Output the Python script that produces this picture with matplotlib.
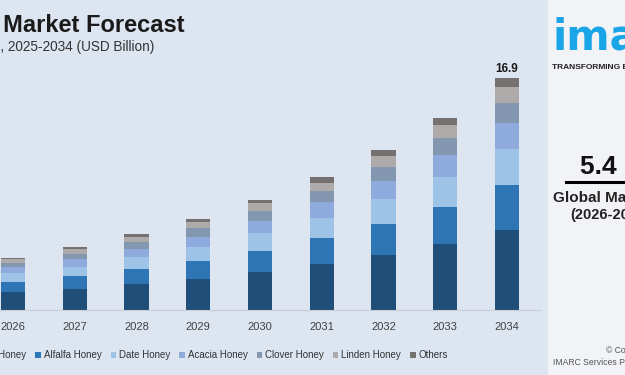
import numpy as np
import matplotlib.pyplot as plt
from matplotlib.patches import Patch, Rectangle
from matplotlib.lines import Line2D

plt.rcParams['font.family'] = ['Liberation Sans', 'DejaVu Sans']

# values (USD Billion)
years = ["2026", "2027", "2028", "2029", "2030", "2031", "2032", "2033", "2034"]
manuka = [1.33, 1.55, 1.90, 2.28, 2.77, 3.33, 4.01, 4.84, 5.84]
alfalfa = [0.71, 0.92, 1.07, 1.27, 1.53, 1.90, 2.26, 2.70, 3.25]
date = [0.63, 0.70, 0.90, 1.06, 1.29, 1.48, 1.82, 2.17, 2.63]
acacia = [0.44, 0.55, 0.58, 0.73, 0.92, 1.15, 1.33, 1.60, 1.94]
clover = [0.34, 0.37, 0.49, 0.61, 0.71, 0.80, 1.02, 1.22, 1.46]
linden = [0.25, 0.33, 0.41, 0.44, 0.56, 0.63, 0.78, 0.97, 1.12]
others = [0.12, 0.19, 0.20, 0.24, 0.24, 0.44, 0.44, 0.53, 0.66]

series = [manuka, alfalfa, date, acacia, clover, linden, others]
names = ["Manuka Honey", "Alfalfa Honey", "Date Honey", "Acacia Honey",
         "Clover Honey", "Linden Honey", "Others"]
colors = ["#1f4e79", "#2e75b6", "#9dc3e6", "#8faadc", "#8497b0", "#aeaaaa", "#767171"]

bg = "#dde5f1"
W, H = 625, 375

fig = plt.figure(figsize=(6.25, 3.75), dpi=100, facecolor=bg)
ax = fig.add_axes([0, 65 / H, 540 / W, 246.8 / H])
ax.set_facecolor("none")

x = np.arange(len(years))
bottom = np.zeros(len(years))
for vals, col in zip(series, colors):
    ax.bar(x, vals, width=0.395, bottom=bottom, color=col, zorder=2)
    bottom += np.array(vals)

# total label on the last bar
ax.text(x[-1], bottom[-1] + 0.25, f"{bottom[-1]:.1f}", ha="center", va="bottom",
        fontsize=8.5, fontweight="bold", color="#1a1a1a")

ax.set_xlim(-0.2105, 8.534)
ax.set_ylim(0, 18)
ax.set_xticks(x)
ax.set_xticklabels(years, fontsize=8, color="#404040")
ax.tick_params(axis="x", length=0, pad=9)
ax.set_yticks([])
for s in ["top", "right", "left"]:
    ax.spines[s].set_visible(False)
ax.spines["bottom"].set_color("#c9cdd3")
ax.spines["bottom"].set_linewidth(0.8)

# titles (left part is cropped in the reference)
fig.text(185 / W, 1 - 31.7 / H, "Monofloral Honey Market Forecast", ha="right",
         va="baseline", fontsize=17, fontweight="bold", color="#1a1a1a")
fig.text(154 / W, 1 - 50.5 / H, "Global Monofloral Honey Market Size, 2025-2034 (USD Billion)",
         ha="right", va="baseline", fontsize=9.8, color="#333333")

handles = [Patch(facecolor=c) for c in colors]
fig.legend(handles, names, loc="center left", bbox_to_anchor=(-56 / W, 1 - 355.5 / H),
           ncol=7, frameon=False, fontsize=7, handlelength=0.55, handleheight=0.55,
           handletextpad=0.3, columnspacing=0.95, borderpad=0.4, labelcolor="#333333")

# right side panel
fig.add_artist(Rectangle((548 / W, 0), 77 / W, 1, transform=fig.transFigure,
                         facecolor="#f1f3f6", edgecolor="none", zorder=0))
fig.text(553 / W, 1 - 50 / H, "imarc", color="#1aa5e6", fontsize=30, fontweight="bold",
         family="DejaVu Sans", va="baseline")
fig.text(552 / W, 1 - 69 / H, "TRANSFORMING BUSINESSES", fontsize=6, fontweight="bold",
         color="#222222", va="baseline")
fig.text(580 / W, 1 - 174 / H, "5.4 Billion", fontsize=19, fontweight="bold",
         color="#111111", va="baseline")
fig.add_artist(Line2D([566 / W, 1], [1 - 182 / H] * 2, color="black", lw=2.2))
fig.text(553 / W, 1 - 202 / H, "Global Market Size", fontsize=11,
         fontweight="bold", color="#222222", va="baseline")
fig.text(570 / W, 1 - 219 / H, "(2026-2034)", fontsize=10.5, fontweight="bold",
         color="#222222", va="baseline")
fig.text(606 / W, 1 - 353 / H, "\u00a9 Copyright", fontsize=6.2, color="#555555",
         va="baseline")
fig.text(553 / W, 1 - 365 / H, "IMARC Services Private Limited", fontsize=6.2,
         color="#555555", va="baseline")

fig.savefig("out.png", dpi=100, facecolor=bg)
